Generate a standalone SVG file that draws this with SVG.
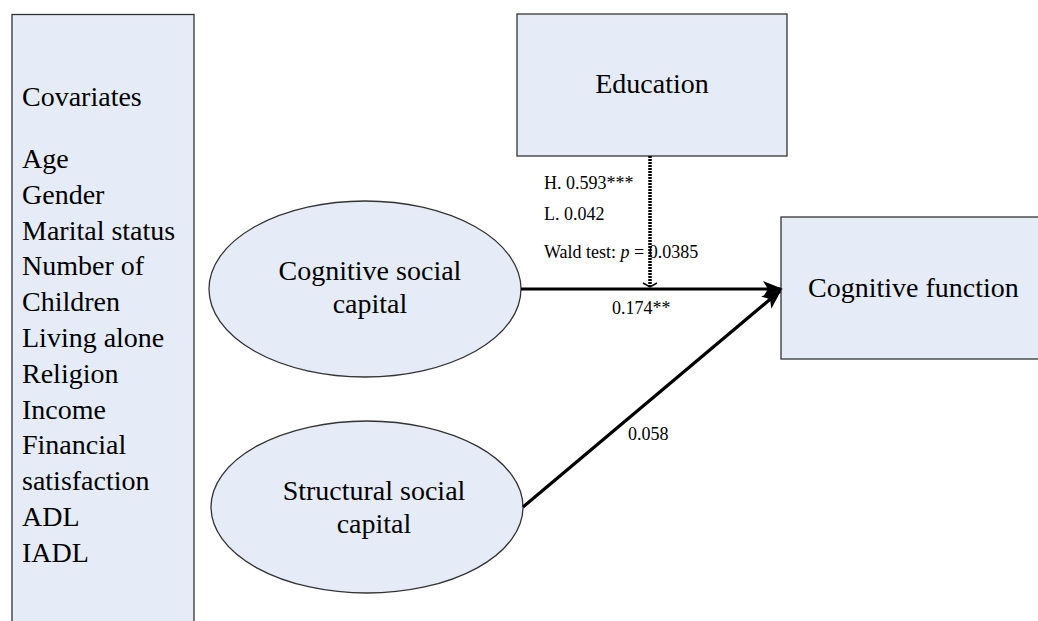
<svg xmlns="http://www.w3.org/2000/svg" width="1038" height="621" viewBox="0 0 1038 621" font-family="Liberation Serif, serif">
<defs>
<style>
.box{fill:#E5ECF7;stroke:#333;stroke-width:1.3}
.t{font-size:28px;fill:#000}
.s{font-size:18px;fill:#000}
.arr{stroke:#000;stroke-width:3.2;fill:none}
</style>
<marker id="ah" viewBox="0 0 20 16" refX="18" refY="8" markerWidth="20" markerHeight="16" markerUnits="userSpaceOnUse" orient="auto">
<path d="M0,0 L20,8 L0,16 L5,8 Z" fill="#000"/>
</marker>
</defs>
<rect width="1038" height="621" fill="#fff"/>
<g id="covariates" font-family="Liberation Serif, serif">
<rect class="box" x="12" y="14.5" width="182" height="620"/>
<text class="t" x="22" y="106">Covariates</text>
<text class="t" x="22" y="168">Age</text>
<text class="t" x="22" y="203.8">Gender</text>
<text class="t" x="22" y="239.6">Marital status</text>
<text class="t" x="22" y="275.4">Number of</text>
<text class="t" x="22" y="311.2">Children</text>
<text class="t" x="22" y="347">Living alone</text>
<text class="t" x="22" y="382.8">Religion</text>
<text class="t" x="22" y="418.6">Income</text>
<text class="t" x="22" y="454.4">Financial</text>
<text class="t" x="22" y="490.2">satisfaction</text>
<text class="t" x="22" y="526">ADL</text>
<text class="t" x="22" y="561.8">IADL</text>
</g>
<g id="education" font-family="Liberation Serif, serif">
<rect class="box" x="517" y="14" width="270" height="142"/>
<text class="t" x="652" y="93" text-anchor="middle">Education</text>
</g>
<g id="cognitive-social-capital" font-family="Liberation Serif, serif">
<ellipse class="box" cx="365" cy="289" rx="156" ry="88"/>
<text class="t" x="370" y="280" text-anchor="middle">Cognitive social</text>
<text class="t" x="370" y="313" text-anchor="middle">capital</text>
</g>
<g id="structural-social-capital" font-family="Liberation Serif, serif">
<ellipse class="box" cx="367" cy="507" rx="156" ry="86"/>
<text class="t" x="374" y="500" text-anchor="middle">Structural social</text>
<text class="t" x="374" y="533" text-anchor="middle">capital</text>
</g>
<g id="cognitive-function" font-family="Liberation Serif, serif">
<rect class="box" x="781" y="217" width="260" height="142"/>
<text class="t" x="808" y="297">Cognitive function</text>
</g>
<g id="connectors">
<line x1="650" y1="156" x2="650" y2="286" stroke="#000" stroke-width="3.5" stroke-dasharray="2 1"/>
<path d="M643,283 L650,287 L657,283" fill="none" stroke="#000" stroke-width="1.5"/>
<line class="arr" x1="521" y1="289" x2="781" y2="289" marker-end="url(#ah)"/>
<line class="arr" x1="523" y1="507" x2="780" y2="291" marker-end="url(#ah)"/>
</g>
<g id="labels" font-family="Liberation Serif, serif">
<text class="s" x="544" y="189">H. 0.593***</text>
<text class="s" x="544" y="220">L. 0.042</text>
<text class="s" x="544" y="258">Wald test: <tspan font-style="italic">p</tspan> = 0.0385</text>
<text class="s" x="612" y="314">0.174**</text>
<text class="s" x="628" y="440">0.058</text>
</g>
</svg>
